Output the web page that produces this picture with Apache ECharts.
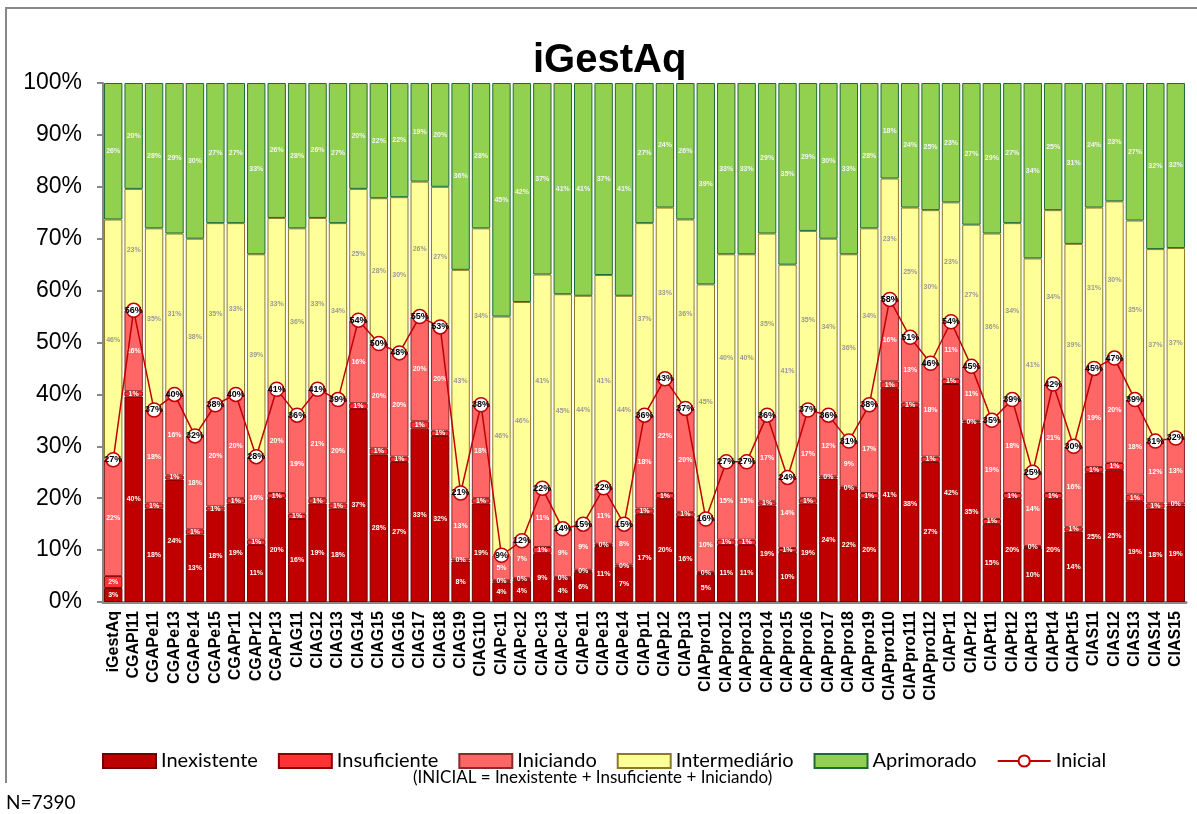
<!DOCTYPE html>
<html>
<head>
<meta charset="utf-8">
<title>iGestAq</title>
<script src="https://cdn.jsdelivr.net/npm/echarts@6/dist/echarts.min.js"></script>
<style>
  html, body { margin: 0; padding: 0; background: #fff; }
  #main { width: 1197px; height: 814px; }
</style>
</head>
<body>
<div id="main"></div>
<script>
// categorias (eixo x)
var categorias = ['iGestAq','CGAPl11','CGAPe11','CGAPe13','CGAPe14','CGAPe15','CGAPr11','CGAPr12','CGAPr13',
  'CIAG11','CIAG12','CIAG13','CIAG14','CIAG15','CIAG16','CIAG17','CIAG18','CIAG19','CIAG110',
  'CIAPc11','CIAPc12','CIAPc13','CIAPc14','CIAPe11','CIAPe13','CIAPe14','CIAPp11','CIAPp12','CIAPp13',
  'CIAPpro11','CIAPpro12','CIAPpro13','CIAPpro14','CIAPpro15','CIAPpro16','CIAPpro17','CIAPpro18','CIAPpro19',
  'CIAPpro110','CIAPpro111','CIAPpro112','CIAPr11','CIAPr12','CIAPt11','CIAPt12','CIAPt13','CIAPt14','CIAPt15',
  'CIAS11','CIAS12','CIAS13','CIAS14','CIAS15'];

// valores em %
var inexistente = [2.7,39.6,18,23.6,13,17.6,19,11,20,16,19,18,37.2,28.4,27,33.4,32,7.8,19,3.8,4.2,9.4,4.4,5.8,10.8,6.8,17,20,16.4,
  5.4,11,11,18.6,9.6,19,23.8,21.8,20,41.2,37.6,27,42,34.6,15,20,10.4,20,13.6,25,25.4,19.4,18,18.6];
var insuficiente = [2.3,1,1,0.8,1,0.8,1,1,1,1,1,1,1.1,1.2,1,1.4,1,0.4,1,0.4,0.4,1.2,0.4,0.4,0.4,0.4,1,1,0.9,
  0.4,1,1,0.8,0.8,1,0.4,0.4,1,1.3,0.8,1,1,0.3,1,1,0.4,1,0.8,1,1.4,1.3,1,0.4];
var iniciando = [22.4,15.6,18,15.6,18,19.6,20,16,20,19,21,20,16,20.2,20,20.2,20,12.8,18,4.8,7.2,11.3,9.3,8.8,10.8,7.8,18,22,20,
  10.2,15,15,16.6,13.6,17,11.8,8.8,17,15.8,12.6,18,11,10.5,19,18,14.2,21,15.6,19,20.2,18.3,12,12.6];
var intermediario = [46.3,23.4,35,31,38,35,33,39,33,36,33,34,25.3,28,30,26,27,43,34,46,46,41.2,45.2,44,41,44,37,33,36.4,
  45.2,40,40,35,41,34.5,34,36,34,23.3,25,29.5,23,27.3,36,34,41.2,33.5,39,31,30.2,34.5,37,36.6];
var aprimorado = [26.3,20.4,28,29,30,27,27,33,26,28,26,27,20.4,22.2,22,19,20,36,28,45,42.2,36.9,40.7,41,37,41,27,24,26.3,
  38.8,33,33,29,35,28.5,30,33,28,18.4,24,24.5,23,27.3,29,27,33.8,24.5,31,24,22.8,26.5,32,31.8];
// INICIAL = Inexistente + Insuficiente + Iniciando
var inicial = [27.4,56.2,37,40,32,38,40,28,41,36,41,39,54.3,49.8,48,55,53,21,38,9,11.8,21.9,14.1,15,22,15,36,43,37.3,
  16,27,27,36,24,37,36,31,38,58.3,51,46,54,45.4,35,39,25,42,30,45,47,39,31,31.6];

var myChart = echarts.init(document.getElementById('main'));

function pct(p) { return Math.round(p.value) + '%'; }

function barra(nome, dados, cor, borda, corTexto) {
  return {
    name: nome,
    type: 'bar',
    stack: 'total',
    barCategoryGap: '10%',
    data: dados,
    itemStyle: { color: cor, borderColor: borda, borderWidth: 1 },
    label: {
      show: true,
      position: 'inside',
      formatter: pct,
      fontSize: 7,
      fontWeight: 'bold',
      fontFamily: 'Liberation Sans',
      color: corTexto
    }
  };
}

var option = {
  animation: false,
  backgroundColor: '#fff',
  title: {
    text: 'iGestAq',
    left: 528,
    top: 36,
    textStyle: { fontSize: 40, fontWeight: 'bold', fontFamily: 'Liberation Sans', color: '#000' }
  },
  legend: {
    top: 746,
    left: 97,
    itemWidth: 53,
    itemHeight: 14,
    itemGap: 20,
    textStyle: { fontSize: 20, fontFamily: 'Lato', color: '#000' },
    data: [
      { name: 'Inexistente', icon: 'rect' },
      { name: 'Insuficiente', icon: 'rect' },
      { name: 'Iniciando', icon: 'rect' },
      { name: 'Intermediário', icon: 'rect' },
      { name: 'Aprimorado', icon: 'rect' },
      'Inicial'
    ]
  },
  grid: { left: 103, right: 11, top: 83, bottom: 212 },
  xAxis: {
    type: 'category',
    data: categorias,
    axisLine: { lineStyle: { color: '#888', width: 3 } },
    axisTick: { show: false },
    axisLabel: {
      interval: 0,
      rotate: 90,
      margin: 9,
      fontSize: 16,
      fontWeight: 'bold',
      fontFamily: 'Liberation Sans',
      color: '#000'
    }
  },
  yAxis: {
    type: 'value',
    min: 0,
    max: 100,
    interval: 10,
    axisLine: { show: true, lineStyle: { color: '#888', width: 2 } },
    axisTick: { show: true, length: 6, lineStyle: { color: '#888', width: 2 } },
    splitLine: { show: false },
    axisLabel: {
      formatter: '{value}%',
      margin: 21,
      fontSize: 23,
      fontFamily: 'Liberation Sans',
      color: '#000'
    }
  },
  graphic: [
    {
      type: 'polyline',
      shape: { points: [[6, 783], [6, 8], [1197, 8]] },
      style: { stroke: '#888', lineWidth: 2, fill: null },
      silent: true
    },
    {
      type: 'text',
      left: 413,
      top: 769,
      style: {
        text: '(INICIAL = Inexistente + Insuficiente + Iniciando)',
        fontSize: 17,
        fontFamily: 'Lato',
        fill: '#000'
      }
    },
    {
      type: 'text',
      left: 6,
      top: 793,
      style: { text: 'N=7390', fontSize: 19, fontFamily: 'Lato', fill: '#000' }
    }
  ],
  series: [
    barra('Inexistente', inexistente, '#C00000', '#6e0000', '#fff'),
    barra('Insuficiente', insuficiente, '#FF3333', '#8b0000', '#fff'),
    barra('Iniciando', iniciando, '#FF6666', '#8b2a2a', '#fff'),
    barra('Intermediário', intermediario, '#FFFF99', '#8c7a2a', '#999'),
    barra('Aprimorado', aprimorado, '#92D050', '#1e6b37', '#f4f4f4'),
    {
      name: 'Inicial',
      type: 'line',
      data: inicial,
      z: 5,
      symbol: 'circle',
      symbolSize: 14,
      lineStyle: { color: '#C00000', width: 1.5 },
      itemStyle: { color: '#fff', borderColor: '#C00000', borderWidth: 1.5 },
      label: {
        show: true,
        position: 'inside',
        formatter: pct,
        fontSize: 9,
        fontWeight: 'bold',
        fontFamily: 'Liberation Sans',
        color: '#000'
      }
    }
  ]
};

myChart.setOption(option);
</script>
</body>
</html>
